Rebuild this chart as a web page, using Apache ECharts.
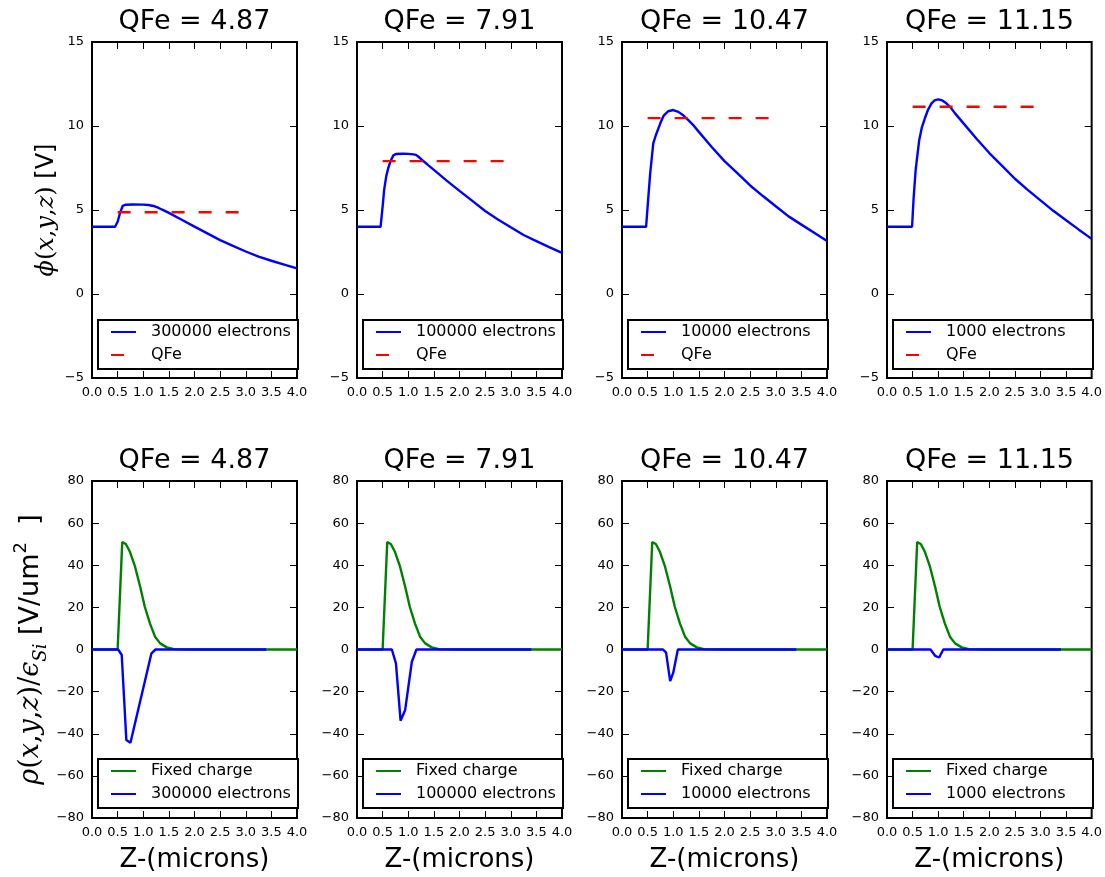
<!DOCTYPE html>
<html>
<head>
<meta charset="utf-8">
<script src="https://cdn.jsdelivr.net/npm/echarts@6/dist/echarts.min.js"></script>
<style>
  html, body { margin: 0; padding: 0; background: #fff; }
  #chart { width: 1105px; height: 877px; }
</style>
</head>
<body>
<div id="chart"></div>
<script>
// panel labels
const qfeValues = [4.87, 7.91, 10.47, 11.15];
const electrons = ['300000', '100000', '10000', '1000'];

// potential phi(x,y,z) along Z, one curve per panel
const phiZ1 = [0, 0.45, 0.5, 0.55, 0.6, 0.65, 0.8, 1.0, 1.1, 1.2, 1.3, 1.4, 1.5, 1.75, 2.0, 2.25, 2.5, 2.75, 3.0, 3.25, 3.5, 3.75, 4.0];
const phiV1 = [4.0, 4.0, 4.3, 4.85, 5.25, 5.31, 5.33, 5.32, 5.3, 5.24, 5.12, 4.98, 4.83, 4.42, 4.01, 3.61, 3.21, 2.86, 2.53, 2.22, 1.98, 1.75, 1.52];
const phiZ2 = [0, 0.46, 0.5, 0.53, 0.57, 0.61, 0.66, 0.71, 0.76, 0.9, 1.0, 1.1, 1.15, 1.2, 1.3, 1.4, 1.5, 1.75, 2.0, 2.25, 2.5, 2.75, 3.0, 3.25, 3.5, 3.75, 4.0];
const phiV2 = [4.0, 4.0, 5.2, 6.2, 7.0, 7.5, 7.95, 8.25, 8.33, 8.35, 8.34, 8.31, 8.28, 8.17, 7.9, 7.64, 7.39, 6.75, 6.14, 5.54, 4.94, 4.44, 3.97, 3.51, 3.15, 2.79, 2.45];
const phiZ3 = [0, 0.47, 0.51, 0.55, 0.61, 0.66, 0.71, 0.76, 0.81, 0.9, 1.0, 1.1, 1.2, 1.3, 1.4, 1.5, 1.75, 2.0, 2.25, 2.5, 2.75, 3.0, 3.25, 3.5, 3.75, 4.0];
const phiV3 = [4.0, 4.0, 5.6, 7.18, 8.97, 9.45, 9.86, 10.25, 10.6, 10.88, 10.95, 10.84, 10.62, 10.33, 10.02, 9.65, 8.75, 7.91, 7.19, 6.46, 5.83, 5.22, 4.62, 4.13, 3.64, 3.15];
const phiZ4 = [0, 0.49, 0.52, 0.56, 0.63, 0.68, 0.74, 0.8, 0.87, 0.93, 1.0, 1.08, 1.16, 1.25, 1.33, 1.5, 1.75, 2.0, 2.25, 2.5, 2.75, 3.0, 3.25, 3.5, 3.75, 4.0];
const phiV4 = [4.0, 4.0, 5.7, 7.38, 9.17, 9.9, 10.46, 10.95, 11.35, 11.52, 11.59, 11.52, 11.35, 11.08, 10.75, 10.14, 9.24, 8.39, 7.63, 6.86, 6.2, 5.57, 4.95, 4.39, 3.83, 3.28];

// QFe dashed level, drawn over this Z range
const qfeZ = [0.5, 2.88];

// charge density rho/eps_Si
const fixedZ = [0, 0.5, 0.59, 0.66, 0.74, 0.84, 0.94, 1.03, 1.13, 1.23, 1.33, 1.46, 1.6, 2.0, 4.0];
const fixedV = [0, 0, 51.0, 50.1, 46.4, 39.3, 29.8, 20.3, 12.4, 6.1, 2.9, 1.0, 0.2, 0, 0];
const rhoZ1 = [0, 0.51, 0.58, 0.67, 0.75, 1.16, 1.24, 3.4];
const rhoV1 = [0, 0, -2.6, -43, -44.3, -1.8, 0, 0];
const rhoZ2 = [0, 0.68, 0.76, 0.85, 0.94, 1.07, 1.16, 3.4];
const rhoV2 = [0, 0, -6.6, -33.8, -28.7, -5.8, 0, 0];
const rhoZ3 = [0, 0.8, 0.86, 0.94, 1.0, 1.09, 3.4];
const rhoV3 = [0, 0, -1.5, -15, -11, 0, 0];
const rhoZ4 = [0, 0.85, 0.94, 1.02, 1.1, 3.4];
const rhoV4 = [0, 0, -3, -3.8, 0, 0];

const phiZ = [phiZ1, phiZ2, phiZ3, phiZ4];
const phiV = [phiV1, phiV2, phiV3, phiV4];
const rhoZ = [rhoZ1, rhoZ2, rhoZ3, rhoZ4];
const rhoV = [rhoV1, rhoV2, rhoV3, rhoV4];

const FONT = 'DejaVu Sans';
const BLUE = '#0000ff', RED = '#ff0000', GREEN = '#008000';
const LW = 2.4;

const panelLeft = [92, 357, 622, 887];
const panelW = 205;
const rowTop = [42, 481];
const rowH = [336, 337];

const pairs = (zs, vs) => zs.map((z, i) => [z, vs[i]]);
const minus = v => String(v).replace('-', '\u2212');

const grid = [], xAxis = [], yAxis = [], series = [], title = [], legend = [], graphic = [];

const tick = { inside: true, length: 7, lineStyle: { color: '#000', width: 1 } };
const noLine = { show: false, onZero: false };

for (let r = 0; r < 2; r++) {
  for (let c = 0; c < 4; c++) {
    const k = r * 4 + c;
    grid.push({
      left: panelLeft[c], top: rowTop[r], width: panelW, height: rowH[r],
      show: true, borderColor: '#000', borderWidth: 2, backgroundColor: 'transparent'
    });

    const yMin = r === 0 ? -5 : -80, yMax = r === 0 ? 15 : 80, yStep = r === 0 ? 5 : 20;

    const xa = {
      gridIndex: k, type: 'value', min: 0, max: 4, interval: 0.5,
      axisLine: noLine, axisTick: tick, splitLine: { show: false },
      axisLabel: { color: '#000', fontSize: 13, fontFamily: FONT, margin: 8, formatter: v => v.toFixed(1) }
    };
    if (r === 1) {
      xa.name = 'Z-(microns)';
      xa.nameLocation = 'middle';
      xa.nameGap = 29;
      xa.nameTextStyle = { fontSize: 26, fontFamily: FONT, color: '#000' };
    }
    xAxis.push(xa);

    const ya = {
      gridIndex: k, type: 'value', min: yMin, max: yMax, interval: yStep,
      axisLine: noLine, axisTick: tick, splitLine: { show: false },
      axisLabel: { color: '#000', fontSize: 13, fontFamily: FONT, margin: 8, formatter: minus }
    };
    if (c === 0) {
      const fs = r === 0 ? 24 : 27;
      const mi = { fontFamily: 'DejaVu Serif', fontStyle: 'italic', fontSize: fs, color: '#000', lineHeight: 38 };
      const mu = { fontFamily: 'DejaVu Serif', fontSize: fs, color: '#000', lineHeight: 38 };
      const tx = { fontFamily: FONT, fontSize: fs, color: '#000', lineHeight: 38 };
      ya.nameLocation = 'middle';
      ya.nameRotate = 90;
      if (r === 0) {
        ya.name = '{mi|ϕ}{mu|(}{mi|x}{mu|,}{mi|y}{mu|,}{mi|z}{mu|)}{tx| [V]}';
        ya.nameGap = 26;
      } else {
        ya.name = '{mi|ρ}{mu|(}{mi|x}{mu|,}{mi|y}{mu|,}{mi|z}{mu|)/}{mi|ϵ}{sub|Si}{tx| [V/um}{sup|2}{tx|  ]}';
        ya.nameGap = 42;
      }
      ya.nameTextStyle = {
        rich: {
          mi: mi, mu: mu, tx: tx,
          sub: { fontFamily: 'DejaVu Serif', fontStyle: 'italic', fontSize: 18, color: '#000', lineHeight: 38, verticalAlign: 'bottom' },
          sup: { fontFamily: FONT, fontSize: 18, color: '#000', lineHeight: 38, verticalAlign: 'top' }
        }
      };
    }
    yAxis.push(ya);

    title.push({
      text: 'QFe = ' + qfeValues[c].toFixed(2),
      left: panelLeft[c] + panelW / 2, top: r === 0 ? 8 : 447, textAlign: 'center', padding: 0,
      textStyle: { fontSize: 27, fontWeight: 'normal', fontFamily: FONT, color: '#000' }
    });

    const base = { type: 'line', xAxisIndex: k, yAxisIndex: k, symbol: 'none', animation: false };
    const eName = electrons[c] + ' electrons';
    if (r === 0) {
      series.push(Object.assign({}, base, {
        name: eName, data: pairs(phiZ[c], phiV[c]),
        lineStyle: { color: BLUE, width: LW }, itemStyle: { color: BLUE }
      }));
      series.push(Object.assign({}, base, {
        name: 'QFe', data: pairs(qfeZ, [qfeValues[c], qfeValues[c]]),
        lineStyle: { color: RED, width: LW, type: [13, 14] }, itemStyle: { color: RED }
      }));
    } else {
      series.push(Object.assign({}, base, {
        name: 'Fixed charge', data: pairs(fixedZ, fixedV),
        lineStyle: { color: GREEN, width: LW }, itemStyle: { color: GREEN }
      }));
      series.push(Object.assign({}, base, {
        name: eName, data: pairs(rhoZ[c], rhoV[c]),
        lineStyle: { color: BLUE, width: LW }, itemStyle: { color: BLUE }
      }));
    }

    legend.push({
      orient: 'vertical', left: panelLeft[c] + 18, top: r === 0 ? 323 : 762,
      padding: 0, itemWidth: 25, itemHeight: 14, itemGap: 5, selectedMode: false, z: 6,
      itemStyle: { opacity: 0 },
      data: r === 0 ? [eName, 'QFe'] : ['Fixed charge', eName],
      textStyle: { fontSize: 16, fontFamily: FONT, color: '#000', lineHeight: 18, padding: [0, 0, 0, 10] }
    });
    graphic.push({
      type: 'rect', z: 5,
      shape: { x: panelLeft[c] + 6, y: r === 0 ? 320 : 759, width: 200, height: 49 },
      style: { fill: '#fff', stroke: '#000', lineWidth: 2 }
    });
  }
}

// mirrored ticks on the top and right edges
for (let k = 0; k < 8; k++) {
  const r = k < 4 ? 0 : 1;
  xAxis.push({
    gridIndex: k, type: 'value', position: 'top', min: 0, max: 4, interval: 0.5,
    axisLine: noLine, axisTick: tick, axisLabel: { show: false }, splitLine: { show: false }
  });
  yAxis.push({
    gridIndex: k, type: 'value', position: 'right',
    min: r === 0 ? -5 : -80, max: r === 0 ? 15 : 80, interval: r === 0 ? 5 : 20,
    axisLine: noLine, axisTick: tick, axisLabel: { show: false }, splitLine: { show: false }
  });
}

const chart = echarts.init(document.getElementById('chart'), null, { renderer: 'canvas' });
chart.setOption({
  backgroundColor: '#fff',
  animation: false,
  title, grid, xAxis, yAxis, series, legend, graphic
});
</script>
</body>
</html>
